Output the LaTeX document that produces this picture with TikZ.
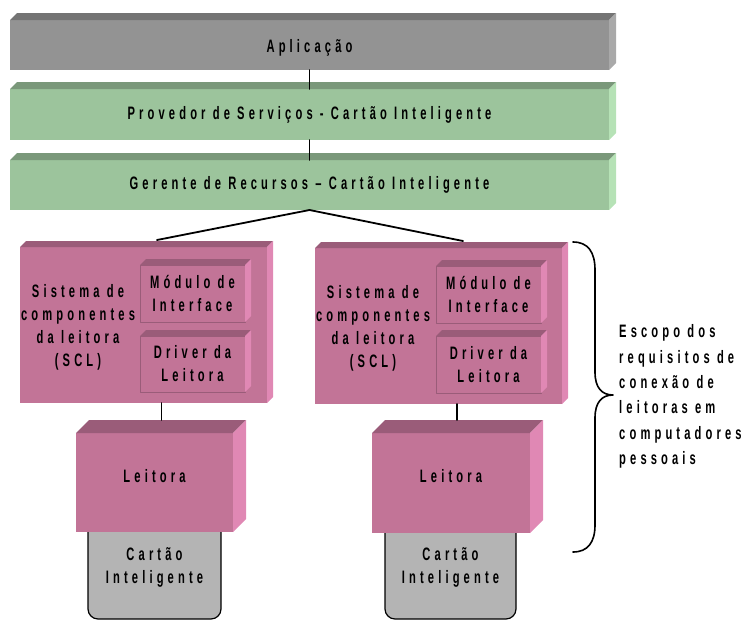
\documentclass[tikz,border=0pt]{standalone}
\usepackage{fontspec}
\setmainfont{Liberation Sans}[FakeStretch=0.62,LetterSpace=23]

\definecolor{cinzaF}{HTML}{939393}
\definecolor{cinzaT}{HTML}{747474}
\definecolor{cinzaL}{HTML}{A9A9A9}
\definecolor{verdeF}{HTML}{9CC49C}
\definecolor{verdeT}{HTML}{7A987A}
\definecolor{verdeL}{HTML}{B6E2B6}
\definecolor{rosaF}{HTML}{C27497}
\definecolor{rosaT}{HTML}{9A5C79}
\definecolor{rosaL}{HTML}{E088B4}
\definecolor{cartaoF}{HTML}{B4B4B4}

\tikzset{
  frente/.style={inner sep=0pt, outer sep=0pt, align=center,
    font=\fontsize{18}{23}\selectfont\bfseries},
  texto/.style={inner sep=0pt, align=center,
    font=\fontsize{18}{23}\selectfont\bfseries},
  liga/.style={draw=black, line width=1.8pt},
  cartao/.style={frente, fill=cartaoF, draw=black, line width=1.2pt,
    rounded corners=10pt},
}

% top and side faces of a box drawn from its front node
\newcommand{\faces}[4]{%
  \fill[#3] (#1.north west) -- ++(#2,-#2) -- ([shift={(#2,-#2)}]#1.north east)
    -- (#1.north east) -- cycle;
  \fill[#4] (#1.north east) -- ++(#2,-#2) -- ([shift={(#2,-#2)}]#1.south east)
    -- (#1.south east) -- cycle;
}

\begin{document}
\begin{tikzpicture}[x=1pt, y=-1pt, line cap=round, line join=round]
  \useasboundingbox (0,0) rectangle (747,619);

  % Camadas do topo
  \node[frente, fill=cinzaF, text height=19pt, minimum width=599, minimum height=50] (apl) at (309.5,45) {Aplicação};
  \faces{apl}{7}{cinzaT}{cinzaL}
  \node[frente, fill=verdeF, minimum width=599, minimum height=51] (prov) at (309.5,114.5)
    {Provedor de Serviços - Cartão Inteligente};
  \faces{prov}{7}{verdeT}{verdeL}
  \node[frente, fill=verdeF, minimum width=599, minimum height=50] (ger) at (309.5,185)
    {Gerente de Recursos – Cartão Inteligente};
  \faces{ger}{7}{verdeT}{verdeL}

  % Cartoes (atras das leitoras)
  \node[cartao, minimum width=133, minimum height=103] (card1) at (154.5,567.5) {Cartão\\Inteligente};
  \node[cartao, minimum width=131, minimum height=103] (card2) at (450.5,567.5) {Cartão\\Inteligente};

  % SCL esquerdo
  \node[frente, fill=rosaF, minimum width=247, minimum height=156] (scl1) at (143.5,325) {};
  \faces{scl1}{6}{rosaT}{rosaL}
  \node[texto] (scltxt1) at (78,327) {Sistema de\\componentes\\da leitora\\(SCL)};
  \node[frente, fill=rosaF, draw=rosaT, line width=0.5pt, minimum width=105, minimum height=57] (mod1) at (192.5,293.5)
    {Módulo de\\Interface};
  \faces{mod1}{6}{rosaT}{rosaL}
  \node[frente, fill=rosaF, draw=rosaT, line width=0.5pt, minimum width=105, minimum height=56] (drv1) at (192.5,364)
    {Driver da\\Leitora};
  \faces{drv1}{6}{rosaT}{rosaL}

  % SCL direito
  \node[frente, fill=rosaF, minimum width=247, minimum height=156] (scl2) at (438.5,326) {};
  \faces{scl2}{6}{rosaT}{rosaL}
  \node[texto] (scltxt2) at (373,328) {Sistema de\\componentes\\da leitora\\(SCL)};
  \node[frente, fill=rosaF, draw=rosaT, line width=0.5pt, minimum width=105, minimum height=57] (mod2) at (488.5,294.5)
    {Módulo de\\Interface};
  \faces{mod2}{6}{rosaT}{rosaL}
  \node[frente, fill=rosaF, draw=rosaT, line width=0.5pt, minimum width=105, minimum height=57] (drv2) at (488.5,364.5)
    {Driver da\\Leitora};
  \faces{drv2}{6}{rosaT}{rosaL}

  % Leitoras
  \node[frente, fill=rosaF, text depth=14pt, minimum width=157, minimum height=99] (lei1) at (154.5,482.5) {Leitora};
  \faces{lei1}{13}{rosaT}{rosaL}
  \node[frente, fill=rosaF, text depth=14pt, minimum width=158, minimum height=100] (lei2) at (451,483) {Leitora};
  \faces{lei2}{13}{rosaT}{rosaL}

  % Ligacoes
  \draw[liga] (apl.south) -- (prov.north);
  \draw[liga] (prov.south) -- (ger.north);
  \draw[liga] (ger.south) -- ([shift={(13.5,-7)}]scl1.north);
  \draw[liga] (ger.south) -- ([shift={(24.5,-7)}]scl2.north);
  \coordinate (lin1) at ([shift={(7,-13)}]lei1.north);
  \coordinate (lin2) at ([shift={(6,-13)}]lei2.north);
  \draw[liga] (scl1.south -| lin1) -- (lin1);
  \draw[liga] (scl2.south -| lin2) -- (lin2);

  % Chave do escopo
  \draw[line width=1.6pt] (573,242) .. controls (588,242) and (595,252) .. (595,270) -- (595,372)
    .. controls (595,388) and (602,395) .. (613,395)
    .. controls (602,395) and (595,402) .. (595,418) -- (595,525)
    .. controls (595,542) and (588,552) .. (573,552);
  \node[texto, anchor=west, align=left, font=\fontsize{18}{25.4}\selectfont\bfseries] (escopo) at (619,396.5)
    {Escopo dos\\requisitos de\\conexão de\\leitoras em\\computadores\\pessoais};
\end{tikzpicture}
\end{document}
